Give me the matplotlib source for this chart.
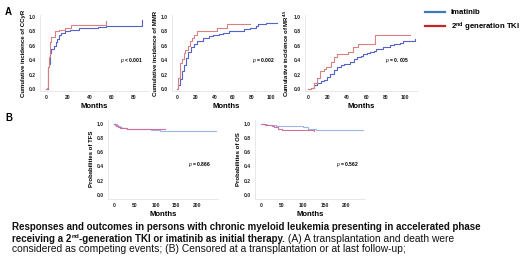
import matplotlib
matplotlib.use("Agg")
import matplotlib.pyplot as plt
from matplotlib.lines import Line2D

plt.rcParams['font.family'] = ['Liberation Sans', 'DejaVu Sans']
plt.rcParams['mathtext.fontset'] = 'custom'
plt.rcParams['mathtext.rm'] = 'Liberation Sans'
plt.rcParams['mathtext.bf'] = 'Liberation Sans:bold'
plt.rcParams['mathtext.it'] = 'Liberation Sans:italic'

# --- data (step curves: month, value) ---
ccyr_ima_t = [0, 1.5, 2, 3, 4, 5, 7, 9, 10, 12, 14, 17, 22, 30, 38, 48, 55, 88, 88]
ccyr_ima_v = [0, 0.02, 0.30, 0.35, 0.50, 0.55, 0.60, 0.65, 0.70, 0.75, 0.78, 0.80, 0.82, 0.84, 0.85, 0.86, 0.88, 0.88, 0.96]
ccyr_2g_t = [0, 1, 2, 3, 4, 5, 8, 12, 17, 23, 55, 55]
ccyr_2g_v = [0, 0.02, 0.30, 0.45, 0.65, 0.72, 0.80, 0.82, 0.85, 0.89, 0.89, 0.95]

mmr_ima_t = [0, 1, 3, 5, 7, 10, 12, 15, 18, 21, 28, 34, 39, 45, 49, 56, 64, 72, 78, 84, 87, 95, 107]
mmr_ima_v = [0, 0.05, 0.14, 0.25, 0.33, 0.43, 0.51, 0.58, 0.63, 0.66, 0.71, 0.73, 0.75, 0.77, 0.78, 0.80, 0.81, 0.83, 0.84, 0.87, 0.90, 0.91, 0.91]
mmr_2g_t = [0, 1, 3, 5, 7, 9, 12, 14, 16, 18, 21, 42.5, 53, 78]
mmr_2g_v = [0, 0.15, 0.36, 0.42, 0.50, 0.54, 0.60, 0.66, 0.71, 0.75, 0.80, 0.84, 0.90, 0.90]

mr45_ima_t = [0, 3, 6, 9, 13, 16, 20, 23, 27, 30, 34, 37, 43, 47, 50, 54, 57, 61, 64, 68, 70, 74, 77, 81, 84, 88, 91, 95, 98, 102, 105, 110]
mr45_ima_v = [0, 0.02, 0.06, 0.09, 0.11, 0.13, 0.17, 0.21, 0.26, 0.30, 0.33, 0.35, 0.38, 0.41, 0.44, 0.46, 0.48, 0.50, 0.52, 0.53, 0.55, 0.56, 0.58, 0.59, 0.61, 0.62, 0.63, 0.64, 0.66, 0.66, 0.67, 0.69]
mr45_2g_t = [0, 3, 6, 9, 12, 16, 19, 24, 27, 29.5, 41.5, 46.5, 51.5, 68.7, 104.6]
mr45_2g_v = [0, 0.02, 0.08, 0.15, 0.25, 0.28, 0.31, 0.38, 0.45, 0.49, 0.52, 0.58, 0.63, 0.75, 0.75]

tfs_ima_t = [0, 3, 6, 10, 15, 20, 30, 45, 70, 90, 110, 245]
tfs_ima_v = [1.0, 0.99, 0.975, 0.96, 0.95, 0.94, 0.93, 0.925, 0.92, 0.91, 0.895, 0.895]
tfs_2g_t = [0, 2, 4, 7, 10, 15, 22, 30, 45, 60, 123]
tfs_2g_v = [1.0, 0.985, 0.97, 0.96, 0.95, 0.945, 0.935, 0.93, 0.925, 0.92, 0.92]

os_ima_t = [0, 8, 15, 35, 60, 100, 110, 130, 240]
os_ima_v = [1.0, 0.99, 0.98, 0.97, 0.96, 0.95, 0.93, 0.905, 0.905]
os_2g_t = [0, 5, 10, 25, 30, 40, 50, 105, 112, 125]
os_2g_v = [1.0, 0.99, 0.98, 0.97, 0.95, 0.93, 0.915, 0.915, 0.91, 0.90]

p_vals = ["< 0.001", "= 0.002", "= 0. 005", "= 0.866", "= 0.562"]

BLUE = "#5563c9"
RED = "#d98080"
B_BLUE = "#9fb6e3"
B_RED = "#cf6f9e"

fig = plt.figure(figsize=(5.2, 2.59), dpi=100)
W, H = 520, 259


def make_ax(left, right, top, bottom):
    return fig.add_axes([left / W, 1 - bottom / H, (right - left) / W, (bottom - top) / H])


def style(ax, ylabel, xticks):
    for s in ['top', 'right']:
        ax.spines[s].set_visible(False)
    for s in ['left', 'bottom']:
        ax.spines[s].set_color('#e4e4e4')
        ax.spines[s].set_linewidth(0.6)
    ax.tick_params(length=0, labelsize=3.6, pad=3, colors='#222222')
    ax.set_yticks([0, 0.2, 0.4, 0.6, 0.8, 1.0])
    ax.set_yticklabels(['0.0', '0.2', '0.4', '0.6', '0.8', '1.0'], fontweight='bold')
    ax.set_xticks(xticks)
    ax.set_xticklabels([str(x) for x in xticks], fontweight='bold')
    ax.set_ylabel(ylabel, fontsize=4.3, fontweight='bold', labelpad=2)
    ax.set_xlabel('Months', fontsize=5.6, fontweight='bold', labelpad=2)


# panel A
a1 = make_ax(40, 148, 14.8, 91.2)
a1.step(ccyr_ima_t, ccyr_ima_v, where='post', color=BLUE, lw=0.8)
a1.step(ccyr_2g_t, ccyr_2g_v, where='post', color=RED, lw=0.8)
a1.set_xlim(-5.5, 93.5)
a1.set_ylim(-0.03, 1.03)
style(a1, 'Cumulative incidence of CCyR', [0, 20, 40, 60, 80])
a1.text(0.74, 0.38, r'$\mathit{p}$ ' + p_vals[0], transform=a1.transAxes, fontsize=3.6, fontweight='bold')

a2 = make_ax(172, 280, 14.8, 91.2)
a2.step(mmr_ima_t, mmr_ima_v, where='post', color=BLUE, lw=0.8)
a2.step(mmr_2g_t, mmr_2g_v, where='post', color=RED, lw=0.8)
a2.set_xlim(-5.3, 110)
a2.set_ylim(-0.03, 1.03)
style(a2, 'Cumulative incidence of MMR', [0, 20, 40, 60, 80, 100])
a2.text(0.74, 0.38, r'$\mathit{p}$ ' + p_vals[1], transform=a2.transAxes, fontsize=3.6, fontweight='bold')

a3 = make_ax(305, 417, 14.8, 91.2)
a3.step(mr45_ima_t, mr45_ima_v, where='post', color=BLUE, lw=0.8)
a3.step(mr45_2g_t, mr45_2g_v, where='post', color=RED, lw=0.8)
a3.set_xlim(-3, 112)
a3.set_ylim(-0.03, 1.03)
style(a3, r'Cumulative incidence of MR$^{\mathbf{4.5}}$', [0, 20, 40, 60, 80, 100])
a3.text(0.71, 0.38, r'$\mathit{p}$ ' + p_vals[2], transform=a3.transAxes, fontsize=3.6, fontweight='bold')

# panel B
b1 = make_ax(108, 218, 120, 198.6)
b1.step(tfs_ima_t, tfs_ima_v, where='post', color=B_BLUE, lw=0.8)
b1.step(tfs_2g_t, tfs_2g_v, where='post', color=B_RED, lw=0.8)
b1.set_xlim(-14.5, 250)
b1.set_ylim(-0.05, 1.05)
style(b1, 'Probabilities of TFS', [0, 50, 100, 150, 200])
b1.text(0.73, 0.42, r'$\mathit{p}$ ' + p_vals[3], transform=b1.transAxes, fontsize=3.6, fontweight='bold')

b2 = make_ax(255, 365, 120, 198.6)
b2.step(os_ima_t, os_ima_v, where='post', color=B_BLUE, lw=0.8)
b2.step(os_2g_t, os_2g_v, where='post', color=B_RED, lw=0.8)
b2.set_xlim(-14, 245)
b2.set_ylim(-0.05, 1.05)
style(b2, 'Probabilities of OS', [0, 50, 100, 150, 200])
b2.text(0.74, 0.42, r'$\mathit{p}$ ' + p_vals[4], transform=b2.transAxes, fontsize=3.6, fontweight='bold')

fig.text(5 / W, 1 - 12 / H, 'A', fontsize=7, fontweight='bold', va='center')
fig.text(5 / W, 1 - 118 / H, 'B', fontsize=7, fontweight='bold', va='center')

# legend
handles = [Line2D([], [], color='#3d7ab8', lw=1.6), Line2D([], [], color='#c3272c', lw=1.6)]
fig.legend(handles, ['Imatinib', r'2$^{\mathbf{nd}}$ generation TKI'], loc='upper left',
           bbox_to_anchor=(418 / W, 1 - 2 / H), frameon=False, handlelength=2.6,
           handletextpad=0.7, labelspacing=0.5, prop={'size': 5.6, 'weight': 'bold'})

# caption: runs of text placed one after another (bold / normal / superscript)
fig.canvas.draw()
rend = fig.canvas.get_renderer()


def runs(x0, y, parts):
    x = x0
    for txt, wt, size, dy in parts:
        t = fig.text(x / W, 1 - (y + dy) / H, txt, fontsize=size, fontweight=wt,
                     va='baseline', color='#111111')
        x += t.get_window_extent(rend).width


runs(12, 230, [('Responses and outcomes in persons with chronic myeloid leukemia presenting in accelerated phase',
                'bold', 7.0, 0)])
runs(12, 241.5, [('receiving a 2', 'bold', 7.0, 0), ('nd', 'bold', 4.6, -3),
                 ('-generation TKI or imatinib as initial therapy.', 'bold', 7.0, 0),
                 (' (A) A transplantation and death were', 'normal', 7.4, 0)])
runs(12, 252.5, [('considered as competing events; (B) Censored at a transplantation or at last follow-up;',
                  'normal', 7.4, 0)])

fig.savefig('out.png', dpi=100)
